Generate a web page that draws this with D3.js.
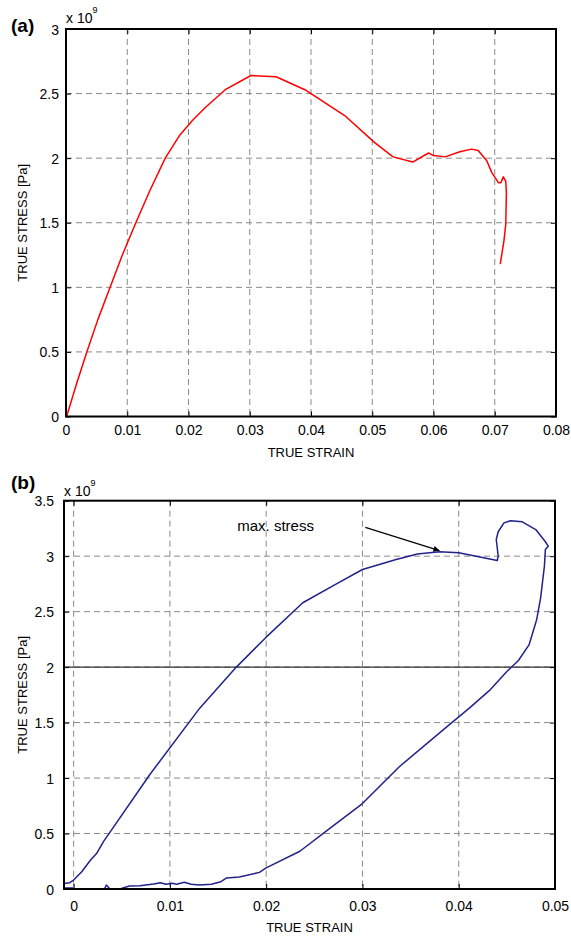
<!DOCTYPE html>
<html>
<head>
<meta charset="utf-8">
<script src="https://cdn.jsdelivr.net/npm/d3@7/dist/d3.min.js"></script>
<style>
  body { margin: 0; background: #fff; }
  svg { display: block; }
  text { font-family: "Liberation Sans", Arial, Helvetica, sans-serif; fill: #000; }
</style>
</head>
<body>
<svg id="chart" width="571" height="936"></svg>
<script>
// ---------- Panel (a) data ----------
const strainA = [0.0001,0.0017,0.0034,0.0052,0.0072,0.0092,0.0114,0.0137,0.0162,0.0186,0.0206,0.0227,0.026,0.0302,0.0343,0.039,0.0455,0.0504,0.0534,0.0566,0.0592,0.0600,0.0619,0.0643,0.0662,0.0673,0.0687,0.0695,0.0706,0.0710,0.0714,0.0718,0.0719,0.0718,0.0715,0.0709];
const stressA = [0,0.25,0.50,0.75,1.00,1.25,1.50,1.75,2.00,2.18,2.29,2.39,2.53,2.64,2.63,2.53,2.33,2.12,2.01,1.97,2.04,2.02,2.01,2.05,2.07,2.06,1.98,1.89,1.81,1.81,1.855,1.82,1.73,1.49,1.36,1.18];
const xTicksA = [0,0.01,0.02,0.03,0.04,0.05,0.06,0.07,0.08];
const yTicksA = [0,0.5,1,1.5,2,2.5,3];

// ---------- Panel (b) data ----------
const strainB = [0.0000,-0.00105,-0.00105,-0.0004,0.0000,0.00084,0.0017,0.0024,0.0031,0.0079,0.0131,0.0169,0.0200,0.0238,0.0273,0.0300,0.0335,0.0357,0.0380,0.0400,0.0440,0.0441,0.0439,0.0441,0.0447,0.0454,0.0466,0.0480,0.0490,0.0493,0.0490,0.0489,0.0485,0.0481,0.0473,0.0462,0.0450,0.0432,0.0411,0.0390,0.0338,0.0300,0.0262,0.0235,0.0200,0.0193,0.0172,0.0159,0.0153,0.0143,0.0131,0.0122,0.0115,0.0107,0.0102,0.0096,0.0090,0.0083,0.0069,0.0058,0.0052,0.0045,0.0038,0.0034,0.0032,0.0027];
const stressB = [0.01,0.01,0.05,0.057,0.081,0.156,0.255,0.322,0.427,1.03,1.63,2.00,2.27,2.58,2.75,2.88,2.97,3.02,3.04,3.03,2.96,3.00,3.15,3.22,3.30,3.32,3.31,3.24,3.13,3.09,3.06,2.91,2.62,2.43,2.20,2.06,1.96,1.79,1.63,1.48,1.10,0.77,0.52,0.34,0.19,0.15,0.108,0.10,0.066,0.042,0.036,0.042,0.06,0.042,0.051,0.042,0.057,0.045,0.03,0.027,0.012,-0.009,-0.003,0.036,0.0,-0.009];
const xTicksB = [0,0.01,0.02,0.03,0.04,0.05];
const yTicksB = [0,0.5,1,1.5,2,2.5,3,3.5];
const refLineB = 2;
const annotText = "max. stress";
const annotArrow = {x1: 0.0303, y1: 3.26, x2: 0.0380, y2: 3.05};
const annotLabel = {x: 0.0170, y: 3.23};

const svg = d3.select("#chart");
const defs = svg.append("defs");
defs.append("marker").attr("id","arrowhead").attr("viewBox","0 0 10 10")
  .attr("refX",10).attr("refY",5).attr("markerWidth",11).attr("markerHeight",6)
  .attr("markerUnits","userSpaceOnUse").attr("orient","auto")
  .append("path").attr("d","M0,0 L10,5 L0,10 z").attr("fill","#000");

const fmt = d => (d === 0 ? "0" : String(d));

function panel(cfg) {
  const {id, L, R, T, B, xDomain, yDomain, xTicks, yTicks, xs, ys, color,
         yLabelRight, xLabelBaseline, xTickBaseline, letter, letterPos, expPos, yLabelX} = cfg;
  const x = d3.scaleLinear().domain(xDomain).range([L, R]);
  const y = d3.scaleLinear().domain(yDomain).range([B, T]);
  const g = svg.append("g");

  defs.append("clipPath").attr("id", "clip" + id)
    .append("rect").attr("x", L).attr("y", T).attr("width", R - L).attr("height", B - T);

  // grid
  const grid = g.append("g").attr("stroke", "#8a8a8a").attr("stroke-width", 1)
    .attr("stroke-dasharray", "6,4");
  xTicks.filter(t => x(t) > L + 1 && x(t) < R - 1).forEach(t => {
    grid.append("line").attr("x1", x(t)).attr("x2", x(t)).attr("y1", T).attr("y2", B);
  });
  yTicks.filter(t => y(t) > T + 1 && y(t) < B - 1).forEach(t => {
    grid.append("line").attr("x1", L).attr("x2", R).attr("y1", y(t)).attr("y2", y(t));
  });

  if (cfg.refLine !== undefined) {
    g.append("line").attr("x1", L).attr("x2", R)
      .attr("y1", y(cfg.refLine)).attr("y2", y(cfg.refLine))
      .attr("stroke", "#333").attr("stroke-width", 1.2);
  }

  // axes with inward ticks
  const axB = d3.axisBottom(x).tickValues(xTicks).tickSize(-5).tickPadding(8).tickFormat(fmt);
  const axT = d3.axisTop(x).tickValues(xTicks).tickSize(-5).tickFormat("");
  const axLft = d3.axisLeft(y).tickValues(yTicks).tickSize(-5).tickFormat(fmt);
  const axRt = d3.axisRight(y).tickValues(yTicks).tickSize(-5).tickFormat("");

  const gb = g.append("g").attr("transform", `translate(0,${B})`).call(axB);
  const gt = g.append("g").attr("transform", `translate(0,${T})`).call(axT);
  const gl = g.append("g").attr("transform", `translate(${L},0)`).call(axLft);
  const gr = g.append("g").attr("transform", `translate(${R},0)`).call(axRt);
  [gb, gt, gl, gr].forEach(a => {
    a.select(".domain").remove();
    a.selectAll(".tick line").attr("stroke", "#000").attr("stroke-width", 1);
    a.selectAll("text").style("font-size", "14px").attr("fill", "#000")
      .style("font-family", "'Liberation Sans', Arial, sans-serif");
  });
  gb.selectAll(".tick text").attr("dy", null).attr("y", xTickBaseline - B);
  gl.selectAll(".tick text").attr("x", -(L - yLabelRight)).attr("dy", "0.36em");

  // data line
  const pts = xs.map((v, i) => [v, ys[i]]);
  g.append("path").datum(pts)
    .attr("clip-path", `url(#clip${id})`)
    .attr("fill", "none").attr("stroke", color).attr("stroke-width", 1.5)
    .attr("stroke-linejoin", "round")
    .attr("d", d3.line().x(d => x(d[0])).y(d => y(d[1])));

  // box
  g.append("rect").attr("x", L).attr("y", T).attr("width", R - L).attr("height", B - T)
    .attr("fill", "none").attr("stroke", "#000").attr("stroke-width", 2);

  // labels
  g.append("text").attr("x", (L + R) / 2).attr("y", xLabelBaseline)
    .attr("text-anchor", "middle").style("font-size", "13px").text("TRUE STRAIN");
  g.append("text").attr("transform", `translate(${yLabelX},${(T + B) / 2}) rotate(-90)`)
    .attr("text-anchor", "middle").style("font-size", "13px").text("TRUE STRESS [Pa]");
  g.append("text").attr("x", letterPos[0]).attr("y", letterPos[1])
    .style("font-size", "19px").style("font-weight", "bold").text(letter);
  const e = g.append("text").attr("x", expPos[0]).attr("y", expPos[1]).style("font-size", "14px");
  e.append("tspan").text("x 10");
  e.append("tspan").attr("dy", -10).style("font-size", "9px").text("9");

  return {x, y, g};
}

const pa = panel({
  id: "a", L: 66, R: 556, T: 29, B: 416.5,
  xDomain: [0, 0.08], yDomain: [0, 3], xTicks: xTicksA, yTicks: yTicksA,
  xs: strainA, ys: stressA, color: "#ff0000",
  yLabelRight: 59, xTickBaseline: 435, xLabelBaseline: 457,
  letter: "(a)", letterPos: [11, 32], expPos: [66, 23], yLabelX: 27
});

const pb = panel({
  id: "b", L: 64, R: 555, T: 500.7, B: 889,
  xDomain: [-0.001, 0.05], yDomain: [0, 3.5], xTicks: xTicksB, yTicks: yTicksB,
  xs: strainB, ys: stressB, color: "#22228c", refLine: refLineB,
  yLabelRight: 54, xTickBaseline: 911, xLabelBaseline: 932,
  letter: "(b)", letterPos: [11, 489], expPos: [64, 496], yLabelX: 27
});

// annotation in panel (b)
pb.g.append("line")
  .attr("x1", pb.x(annotArrow.x1)).attr("y1", pb.y(annotArrow.y1))
  .attr("x2", pb.x(annotArrow.x2)).attr("y2", pb.y(annotArrow.y2))
  .attr("stroke", "#000").attr("stroke-width", 1.2).attr("marker-end", "url(#arrowhead)");
pb.g.append("text").attr("x", pb.x(annotLabel.x)).attr("y", pb.y(annotLabel.y))
  .style("font-size", "15px").text(annotText);
</script>
</body>
</html>
